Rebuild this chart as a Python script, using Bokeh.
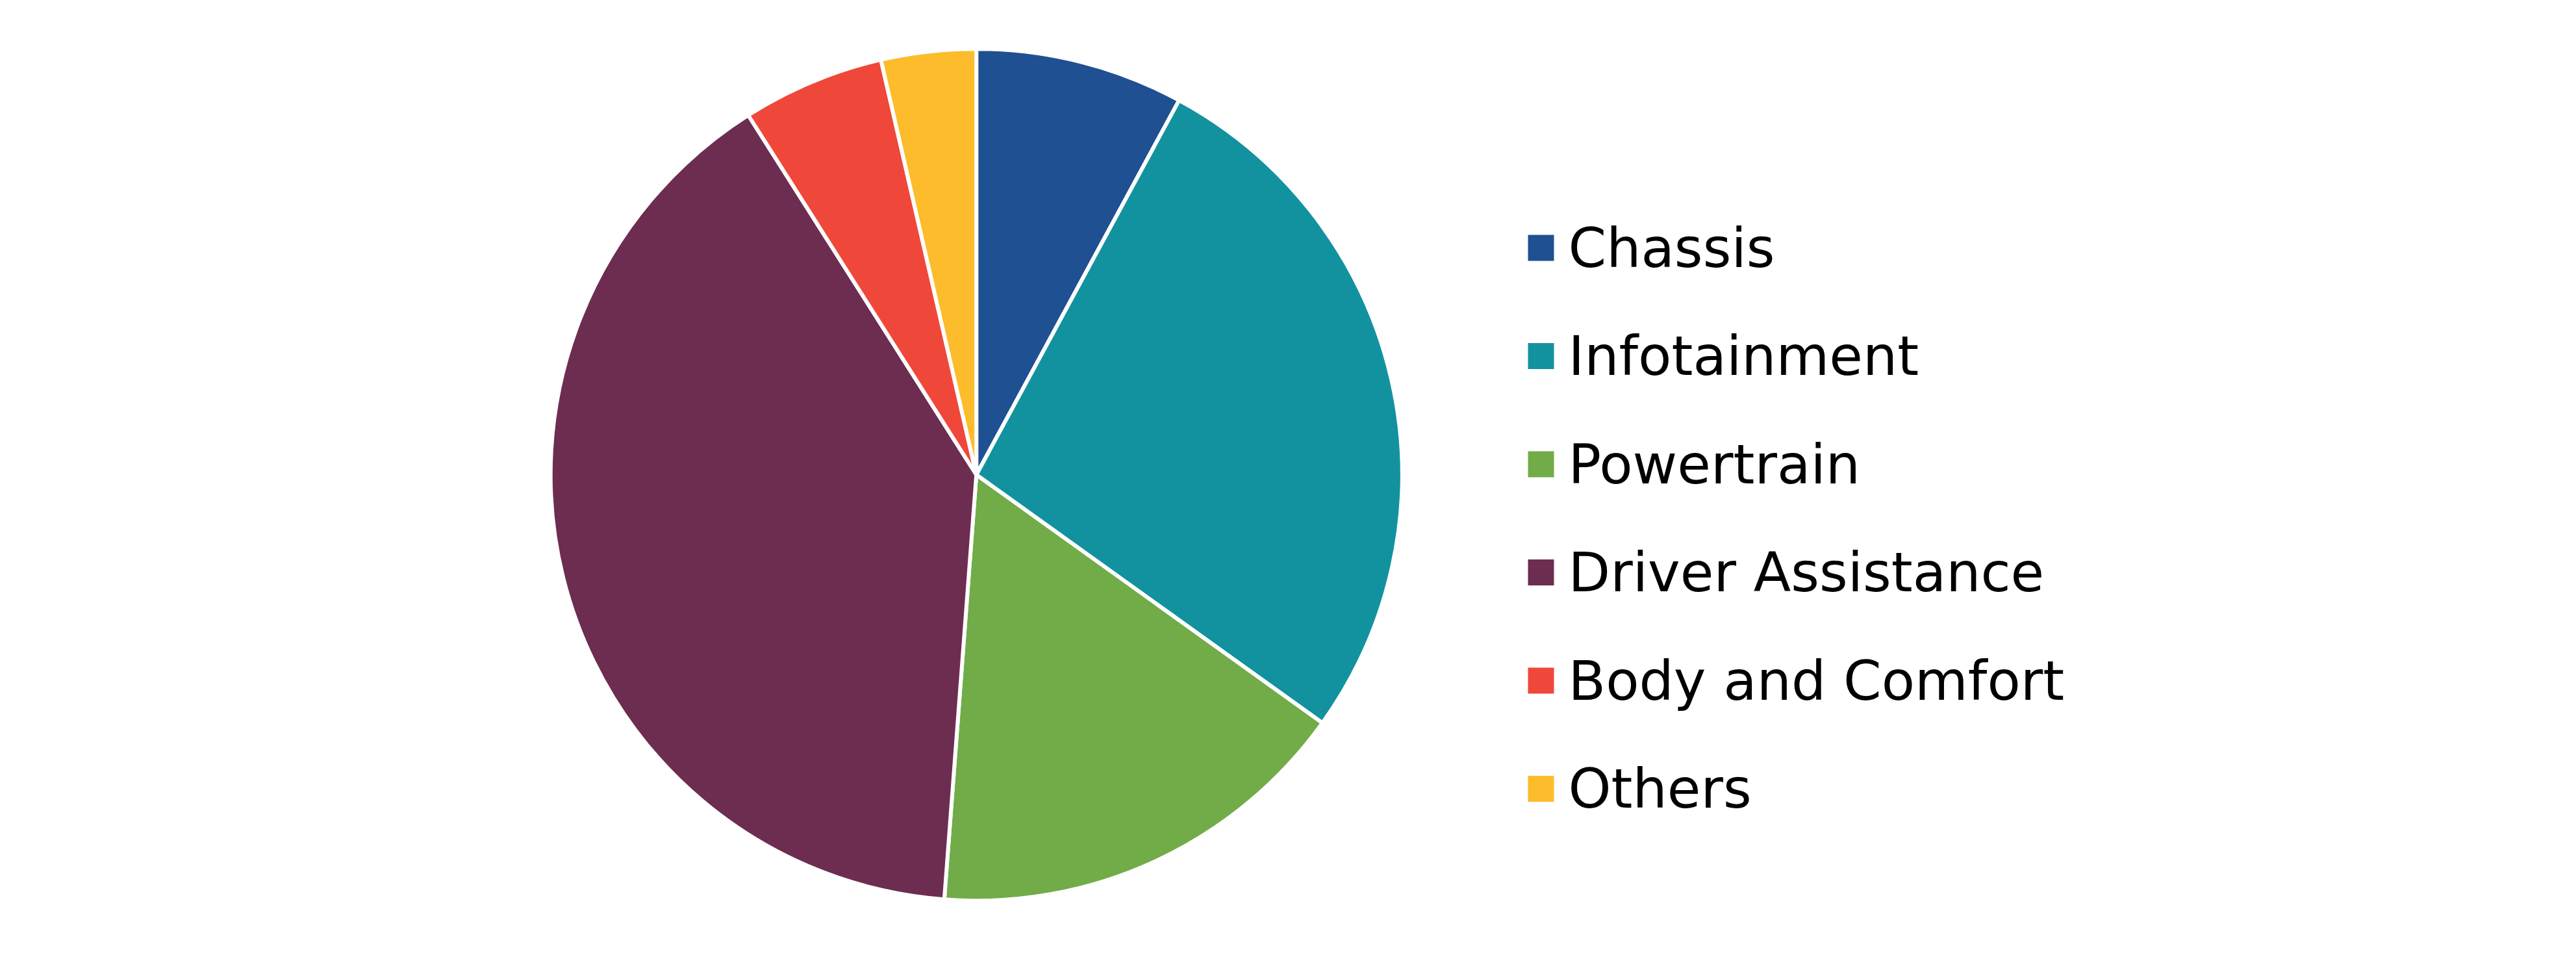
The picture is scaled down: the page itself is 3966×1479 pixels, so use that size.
import math
from bokeh.plotting import figure
from bokeh.models import Range1d, ColumnDataSource
from bokeh.core.properties import value
from bokeh.embed import file_html
from bokeh.resources import INLINE

# ---- data ----
categories = ["Chassis", "Infotainment", "Powertrain", "Driver Assistance", "Body and Comfort", "Others"]
shares = [7.9, 27.0, 16.3, 39.8, 5.4, 3.6]
colors = ["#1F5092", "#12929F", "#71AC48", "#6D2D50", "#EF483A", "#FCBC2B"]

# ---- layout (page pixel space; data y = page height - screen y) ----
PAGE_W, PAGE_H = 3966, 1479
FIG_W, FIG_H = 3950, 1463
OFF = 0
cx, cy = 1502.7, PAGE_H - 730.2
radius = 655.5

total = sum(shares)
starts, ends = [], []
acc = 0.0
for s in shares:
    starts.append(math.pi / 2 - acc / total * 2 * math.pi)
    acc += s
    ends.append(math.pi / 2 - acc / total * 2 * math.pi)

src = ColumnDataSource(dict(cat=categories, share=shares, color=colors,
                            start=starts, end=ends))

p = figure(width=FIG_W, height=FIG_H, output_backend="svg", toolbar_location=None,
           x_range=Range1d(OFF, OFF + FIG_W), y_range=Range1d(PAGE_H - OFF - FIG_H, PAGE_H - OFF),
           min_border=0, outline_line_color=None, background_fill_color="white")
p.axis.visible = False
p.grid.visible = False

p.wedge(x=cx, y=cy, radius=radius, start_angle="start", end_angle="end",
        direction="clock", fill_color="color", line_color="white", line_width=6,
        source=src)

# ---- manual legend ----
leg_x = 2372.0
text_x = 2414.0
first_y = 381.0
step = 166.5
lx, ly, tx, ty = [], [], [], []
for i in range(len(categories)):
    sy = first_y + i * step
    lx.append(leg_x)
    ly.append(PAGE_H - sy)
    tx.append(text_x)
    ty.append(PAGE_H - sy)
leg = ColumnDataSource(dict(x=lx, y=ly, tx=tx, ty=ty, label=categories, color=colors))
p.rect(x="x", y="y", width=40, height=40, fill_color="color", line_color=None, source=leg)
p.text(x="tx", y="ty", text="label", text_font=value("DejaVu Sans"), text_font_size="84px",
       text_baseline="alphabetic", text_align="left", text_color="black", source=leg)

open("out.html", "w").write(file_html(p, INLINE))
